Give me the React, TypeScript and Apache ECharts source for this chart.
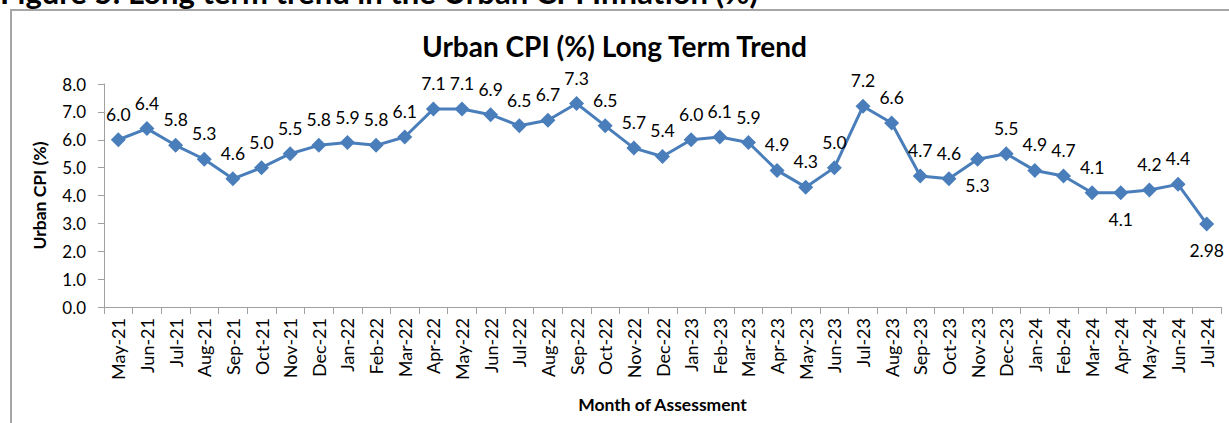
import React, { useEffect, useRef } from "react";
import * as echarts from "echarts";

const months = [
  "May-21", "Jun-21", "Jul-21", "Aug-21", "Sep-21", "Oct-21", "Nov-21", "Dec-21",
  "Jan-22", "Feb-22", "Mar-22", "Apr-22", "May-22", "Jun-22", "Jul-22", "Aug-22", "Sep-22", "Oct-22", "Nov-22", "Dec-22",
  "Jan-23", "Feb-23", "Mar-23", "Apr-23", "May-23", "Jun-23", "Jul-23", "Aug-23", "Sep-23", "Oct-23", "Nov-23", "Dec-23",
  "Jan-24", "Feb-24", "Mar-24", "Apr-24", "May-24", "Jun-24", "Jul-24",
];
const cpiValues = [
  6.0, 6.4, 5.8, 5.3, 4.6, 5.0, 5.5, 5.8,
  5.9, 5.8, 6.1, 7.1, 7.1, 6.9, 6.5, 6.7, 7.3, 6.5, 5.7, 5.4,
  6.0, 6.1, 5.9, 4.9, 4.3, 5.0, 7.2, 6.6, 4.7, 4.6, 5.3, 5.5,
  4.9, 4.7, 4.1, 4.1, 4.2, 4.4, 2.98,
];
const labelsBelow = ["Nov-23", "Apr-24", "Jul-24"];
const chartTitle = "Urban CPI (%) Long Term Trend";
const figureCaption = "Figure 5: Long term trend in the Urban CPI Inflation (%)";
const yAxisName = "Urban CPI (%)";
const xAxisName = "Month of Assessment";

const FONT = "Lato, 'Open Sans', sans-serif";

export default function App() {
  const ref = useRef<HTMLDivElement>(null);
  useEffect(() => {
    if (!ref.current) return;
    const chart = echarts.init(ref.current, null, { renderer: "svg" });
    const fmt = (v: number) => (Math.round(v * 10) === v * 10 ? v.toFixed(1) : String(v));
    const data = cpiValues.map((v, i) => {
      const below = labelsBelow.includes(months[i]);
      return below ? { value: v, label: { position: "bottom", distance: 10 } } : v;
    });
    chart.setOption({
      animation: false,
      textStyle: { fontFamily: FONT },
      graphic: [
        {
          type: "rect",
          shape: { x: 11, y: 10, width: 1260, height: 460 },
          style: { fill: "none", stroke: "#a6a6a6", lineWidth: 2 },
          silent: true,
        },
        {
          type: "text",
          x: 0,
          y: 7,
          style: {
            text: figureCaption,
            font: `bold 31px ${FONT}`,
            fill: "#000",
            textVerticalAlign: "bottom",
          },
        },
      ],
      title: {
        text: chartTitle,
        left: "center",
        top: 27,
        textStyle: { fontFamily: FONT, fontSize: 28, fontWeight: "bold", color: "#000" },
      },
      grid: { left: 104, right: 8, top: 84, bottom: 116, containLabel: false },
      xAxis: {
        type: "category",
        data: months,
        boundaryGap: true,
        name: xAxisName,
        nameLocation: "middle",
        nameGap: 88,
        nameTextStyle: { fontFamily: FONT, fontSize: 17.5, fontWeight: "bold", color: "#000" },
        axisLine: { lineStyle: { color: "#a0a0a0", width: 1 } },
        axisTick: { show: true, interval: 0, length: 7, lineStyle: { color: "#a0a0a0" } },
        axisLabel: { interval: 0, rotate: 90, margin: 11, fontSize: 18, color: "#000", fontFamily: FONT },
      },
      yAxis: {
        type: "value",
        min: 0,
        max: 8,
        interval: 1,
        name: yAxisName,
        nameLocation: "middle",
        nameGap: 56,
        nameTextStyle: { fontFamily: FONT, fontSize: 17.5, fontWeight: "bold", color: "#000" },
        axisLine: { show: true, lineStyle: { color: "#a0a0a0", width: 1 } },
        axisTick: { show: true, length: 6, lineStyle: { color: "#a0a0a0" } },
        axisLabel: { margin: 18, fontSize: 17, color: "#000", fontFamily: FONT, formatter: (v: number) => v.toFixed(1) },
        splitLine: { show: false },
      },
      series: [
        {
          type: "line",
          data,
          symbol: "diamond",
          symbolSize: 15,
          itemStyle: { color: "#4a7ebb" },
          lineStyle: { color: "#4a7ebb", width: 3 },
          label: {
            show: true,
            position: "top",
            distance: 9,
            fontSize: 17.5,
            color: "#000",
            fontFamily: FONT,
            formatter: (p: any) => fmt(p.value as number),
          },
        },
      ],
    });
    return () => chart.dispose();
  }, []);
  return (
    <div
      ref={ref}
      style={{ position: "absolute", left: 0, top: 0, width: 1229, height: 423, background: "#fff" }}
    />
  );
}
